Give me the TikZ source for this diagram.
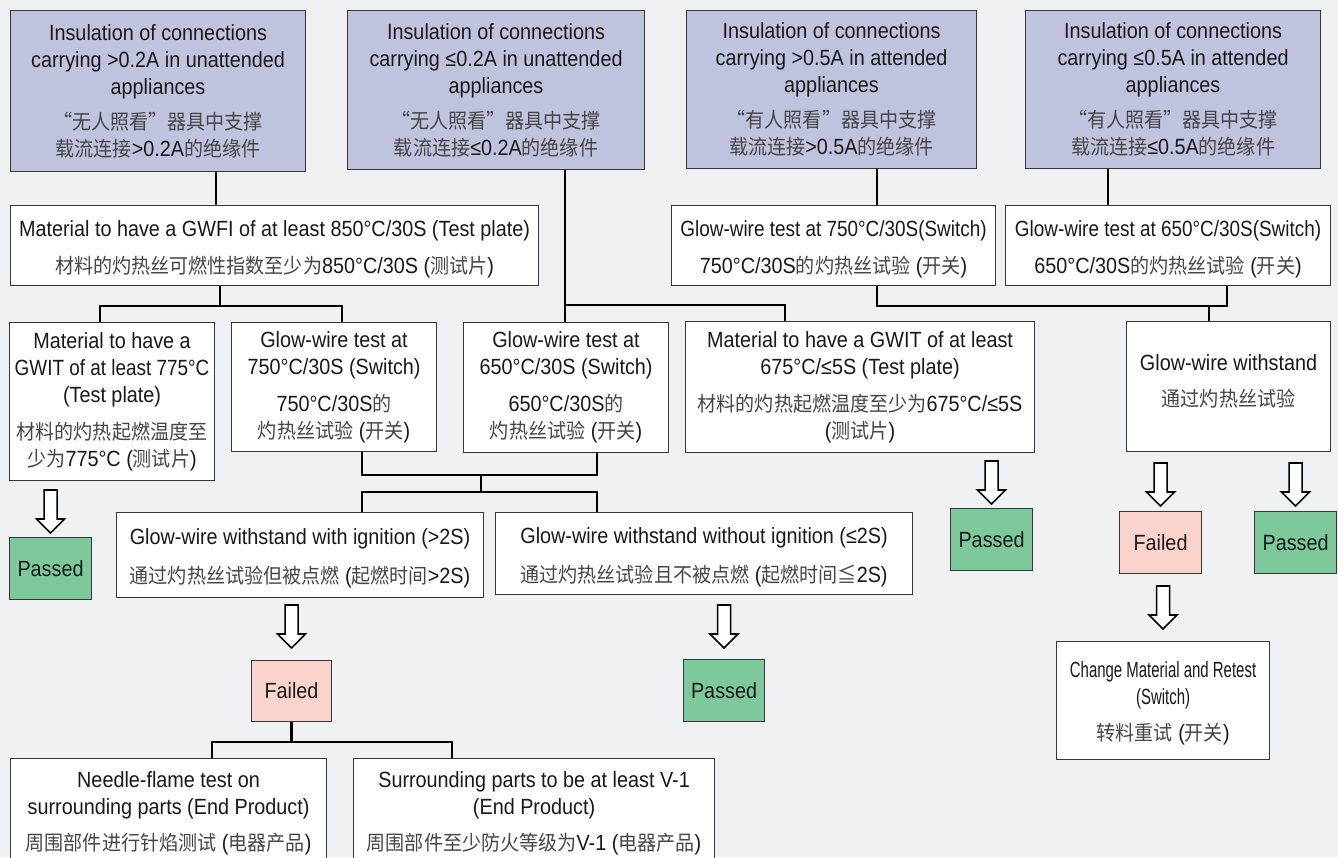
\documentclass[tikz,border=0pt]{standalone}
\usepackage{fontspec}
\setmainfont{Liberation Sans}[FakeStretch=0.9]
\newfontfamily\cjk{Noto Sans CJK SC}[FakeStretch=0.93]
\newfontfamily\narrowfont{Liberation Sans}[FakeStretch=0.68]
\newfontfamily\tightfont{Liberation Sans}[FakeStretch=0.86]
\usetikzlibrary{calc}
\definecolor{bgcol}{RGB}{240,241,243}
\definecolor{topfill}{RGB}{191,195,222}
\definecolor{passfill}{RGB}{126,201,155}
\definecolor{failfill}{RGB}{250,212,204}
\definecolor{boxline}{RGB}{55,55,55}
\definecolor{txt}{RGB}{25,25,25}
\definecolor{zhgray}{RGB}{70,70,70}
\newcommand\zh[1]{{\cjk\fontsize{20.5}{27}\selectfont\color{zhgray}#1}}
\newcommand\tall[1]{\rule{0pt}{#1pt}}
\newcommand\deep[1]{\rule[-#1pt]{0pt}{0pt}}
\newcommand\barrow[2]{%
  \path[blockarrow] let \p1=(#1.north) in
    (\x1-6.5pt,-#2pt) -- (\x1+6.5pt,-#2pt) -- (\x1+6.5pt,-#2pt-29pt) --
    (\x1+14pt,-#2pt-29pt) -- (\x1,-#2pt-43pt) -- (\x1-14pt,-#2pt-29pt) --
    (\x1-6.5pt,-#2pt-29pt) -- cycle;}
\begin{document}
\begin{tikzpicture}[x=1pt,y=-1pt,
  box/.style={draw=boxline, line width=1.1pt, fill=white, align=center,
    inner sep=0pt, anchor=north west, text=txt, font=\fontsize{22}{27}\selectfont},
  topbox/.style={box, fill=topfill},
  passbox/.style={box, fill=passfill},
  failbox/.style={box, fill=failfill},
  sz/.style 2 args={minimum width=#1pt, minimum height=#2pt},
  conn/.style={line width=2.5pt, black, line join=miter},
  blockarrow/.style={draw=black, fill=white, line width=1.6pt, line join=miter}]
\useasboundingbox (0,0) rectangle (1338,857);
\fill[bgcol] (0,0) rectangle (1338,857);

% ---------- top row
\node[topbox, sz={295}{161}] (T1) at (10,10)
 {Insulation of connections\\carrying >0.2A in unattended\\appliances\\[8pt]
  \zh{“无人照看”器具中支撑}\\\zh{载流连接}>0.2A\zh{的绝缘件}};
\node[topbox, sz={297}{159}] (T2) at (347,10)
 {Insulation of connections\\carrying ≤0.2A in unattended\\appliances\\[8pt]
  \zh{“无人照看”器具中支撑}\\\zh{载流连接}≤0.2A\zh{的绝缘件}};
\node[topbox, sz={290}{158}] (T3) at (686,10)
 {Insulation of connections\\carrying >0.5A in attended\\appliances\\[8pt]
  \zh{“有人照看”器具中支撑}\\\zh{载流连接}>0.5A\zh{的绝缘件}};
\node[topbox, sz={295}{158}] (T4) at (1025,10)
 {Insulation of connections\\carrying ≤0.5A in attended\\appliances\\[8pt]
  \zh{“有人照看”器具中支撑}\\\zh{载流连接}≤0.5A\zh{的绝缘件}};

% ---------- second row
\node[box, sz={528}{80}] (A) at (10,205)
 {\tall{23}Material to have a GWFI of at least 850°C/30S (Test plate)\\[10pt]
  \zh{材料的灼热丝可燃性指数至少为}850°C/30S (\zh{测试片})};
\node[box, sz={324}{80}] (R1) at (671,205)
 {\tall{23}{\tightfont Glow-wire test at 750°C/30S(Switch)}\\[10pt]750°C/30S\zh{的灼热丝试验} (\zh{开关})};
\node[box, sz={325}{80}] (R2) at (1005,205)
 {\tall{23}{\tightfont Glow-wire test at 650°C/30S(Switch)}\\[10pt]650°C/30S\zh{的灼热丝试验} (\zh{开关})};

% ---------- third row
\node[box, sz={205}{158}] (B1) at (9,322)
 {Material to have a\\{\tightfont GWIT of at least 775°C}\\(Test plate)\\[10pt]
  \zh{材料的灼热起燃温度至}\\\zh{少为}775°C (\zh{测试片})};
\node[box, sz={205}{129}] (B2) at (231,322)
 {Glow-wire test at\\750°C/30S (Switch)\\[10pt]750°C/30S\zh{的}\\\zh{灼热丝试验} (\zh{开关})};
\node[box, sz={205}{130}] (G3) at (463,322)
 {Glow-wire test at\\650°C/30S (Switch)\\[10pt]650°C/30S\zh{的}\\\zh{灼热丝试验} (\zh{开关})};
\node[box, sz={349}{131}] (M4) at (685,321)
 {Material to have a GWIT of at least\\675°C/≤5S (Test plate)\\[10pt]
  \zh{材料的灼热起燃温度至少为}675°C/≤5S\\(\zh{测试片})};
\node[box, sz={204}{130}] (GW) at (1126,321)
 {Glow-wire withstand\\[9pt]\zh{通过灼热丝试验}\deep{12}};

% ---------- result boxes
\node[passbox, sz={82}{62}] (P1) at (9,537) {Passed};
\node[passbox, sz={82}{62}] (P3) at (950,508) {Passed};
\node[failbox, sz={82}{62}] (F2) at (1119,511) {Failed};
\node[passbox, sz={82}{62}] (P4) at (1254,511) {Passed};

% ---------- fourth row
\node[box, sz={367}{85}] (W1) at (116,512)
 {\tall{23}Glow-wire withstand with ignition (>2S)\\[12pt]
  \zh{通过灼热丝试验但被点燃} (\zh{起燃时间}>2S)};
\node[box, sz={417}{82}] (W2) at (495,512)
 {\tall{24}Glow-wire withstand without ignition (≤2S)\\[12pt]
  \zh{通过灼热丝试验且不被点燃} (\zh{起燃时间≦}2S)};

\node[failbox, sz={80}{61}] (F1) at (251,660) {Failed};
\node[passbox, sz={81}{62}] (P2) at (683,659) {Passed};

\node[box, sz={213}{118}] (CH) at (1056,641)
 {\tall{22}{\narrowfont Change Material and Retest}\\{\narrowfont (Switch)}\\[9pt]\zh{转料重试} (\zh{开关})};

\node[box, sz={316}{104}] (N1) at (10,758)
 {\tall{21}Needle-flame test on\\surrounding parts (End Product)\\[9pt]
  \zh{周围部件进行针焰测试} (\zh{电器产品})};
\node[box, sz={361}{104}] (N2) at (353,758)
 {\tall{21}Surrounding parts to be at least V-1\\(End Product)\\[9pt]
  \zh{周围部件至少防火等级为}V-1 (\zh{电器产品})};

% ---------- connectors
\coordinate (c1) at (216,188);
\draw[conn] (T1.south -| c1) -- (A.north -| c1);
\coordinate (c2) at (220,306);
\coordinate (c2l) at (100,306);
\coordinate (c2r) at (342,306);
\draw[conn] (A.south -| c2) -- (c2);
\draw[conn] (B1.north -| c2l) -- (c2l) -- (c2r) -- (B2.north -| c2r);

\coordinate (c3) at (565,305);
\coordinate (c3r) at (785,305);
\draw[conn] (T2.south -| c3) -- (G3.north -| c3);
\draw[conn] (c3) -- (c3r) -- (M4.north -| c3r);

\coordinate (c4l) at (362,475);
\coordinate (c4r) at (597,475);
\coordinate (c4m) at (481,475);
\coordinate (c5m) at (481,492);
\coordinate (c5l) at (362,492);
\coordinate (c5r) at (597,492);
\draw[conn] (B2.south -| c4l) -- (c4l) -- (c4r) -- (G3.south -| c4r);
\draw[conn] (c4m) -- (c5m);
\draw[conn] (W1.north -| c5l) -- (c5l) -- (c5r) -- (W2.north -| c5r);

\coordinate (c6) at (291,742);
\coordinate (c6l) at (212,742);
\coordinate (c6r) at (452,742);
\draw[conn] (F1.south) -- (F1.south |- c6);
\draw[conn] (N1.north -| c6l) -- (c6l) -- (c6r) -- (N2.north -| c6r);

\coordinate (c7) at (877,187);
\draw[conn] (T3.south -| c7) -- (R1.north -| c7);
\coordinate (c8) at (1108,187);
\draw[conn] (T4.south -| c8) -- (R2.north -| c8);
\coordinate (c9l) at (877,306);
\coordinate (c9r) at (1227,306);
\coordinate (c9m) at (1209,306);
\draw[conn] (R1.south -| c9l) -- (c9l) -- (c9r) -- (R2.south -| c9r);
\draw[conn] (c9m) -- (GW.north -| c9m);

% ---------- block arrows
\barrow{P1}{490}
\barrow{F1}{605}
\barrow{P2}{605}
\barrow{P3}{461}
\barrow{F2}{463}
\barrow{P4}{463}
\barrow{CH}{586}
\end{tikzpicture}
\end{document}
